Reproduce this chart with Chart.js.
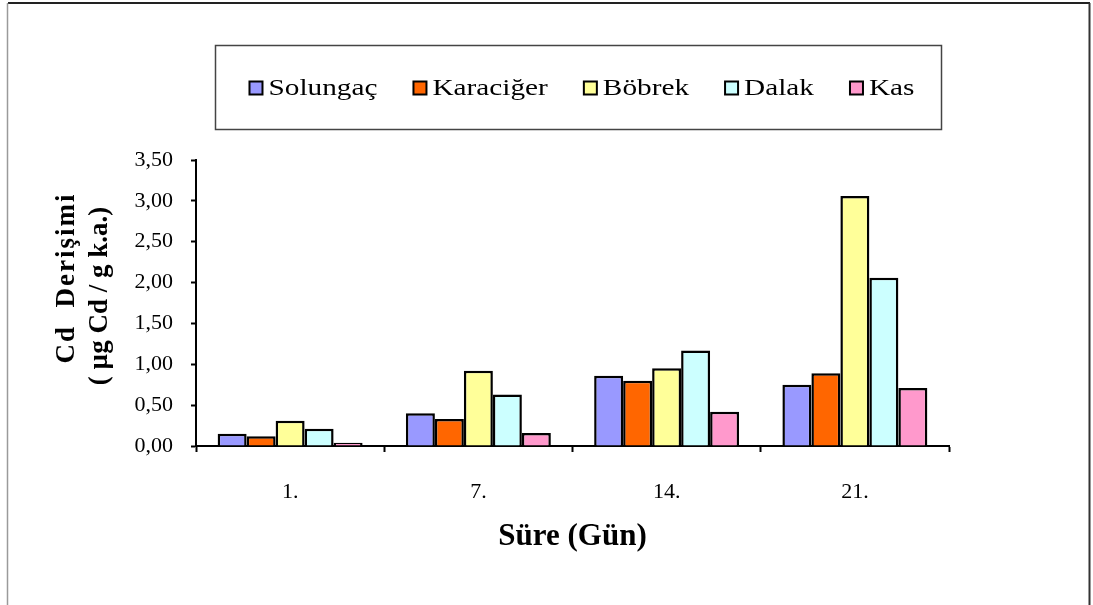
<!DOCTYPE html>
<html>
<head>
<meta charset="utf-8">
<script src="https://cdn.jsdelivr.net/npm/chart.js@4/dist/chart.umd.min.js"></script>
<style>
  html, body { margin: 0; padding: 0; background: #ffffff; }
  #wrap { width: 1093px; height: 605px; position: relative; }
</style>
</head>
<body>
<div id="wrap"><canvas id="c" width="1093" height="605"></canvas></div>
<script>
// Sampling days (x categories)
const categories = ['1.', '7.', '14.', '21.'];

// Cd concentration per tissue (µg Cd / g k.a.)
const solungac  = [0.15, 0.40, 0.86, 0.75];
const karaciger = [0.12, 0.33, 0.80, 0.89];
const bobrek    = [0.31, 0.92, 0.95, 3.06];
const dalak     = [0.21, 0.63, 1.17, 2.06];
const kas       = [0.04, 0.16, 0.42, 0.71];

// Series names and fills
const seriesNames  = ['Solungaç', 'Karaciğer', 'Böbrek', 'Dalak', 'Kas'];
const seriesColors = ['#9999FF', '#FF6600', '#FFFF99', '#CCFFFF', '#FF99CC'];

// Y tick labels (decimal comma)
const yTickLabels = ['0,00', '0,50', '1,00', '1,50', '2,00', '2,50', '3,00', '3,50'];

const yTitleLines = ['Cd  Derişimi', '( µg Cd / g k.a.)'];
const xTitle = 'Süre (Gün)';

const SERIF = '"Liberation Serif", "Times New Roman", serif';

const seriesValues = [solungac, karaciger, bobrek, dalak, kas];

// Frame, boxed legend and rotated y-axis title
const decorations = {
  id: 'decorations',
  afterDraw(chart) {
    const ctx = chart.ctx;
    ctx.save();

    // outer frame
    ctx.strokeStyle = '#222222';
    ctx.lineWidth = 2;
    ctx.beginPath();
    ctx.moveTo(8, 3); ctx.lineTo(1090, 3);
    ctx.stroke();
    ctx.strokeStyle = '#9a9a9a';
    ctx.lineWidth = 1.5;
    ctx.beginPath();
    ctx.moveTo(7.5, 3); ctx.lineTo(7.5, 605);
    ctx.stroke();
    ctx.strokeStyle = '#333333';
    ctx.lineWidth = 2;
    ctx.beginPath();
    ctx.moveTo(1089.5, 3); ctx.lineTo(1089.5, 605);
    ctx.stroke();

    // legend box
    ctx.strokeStyle = '#444444';
    ctx.lineWidth = 1.5;
    ctx.strokeRect(215.5, 45.5, 726, 84);

    // legend items (text slightly widened)
    ctx.font = '24px ' + SERIF;
    ctx.textBaseline = 'middle';
    ctx.textAlign = 'left';
    const sx = 1.22;
    const box = 13, boxGap = 6, itemGap = 36;
    const ds = chart.data.datasets;
    const widths = ds.map(d => ctx.measureText(d.label).width * sx);
    const total = widths.reduce((a, w) => a + box + boxGap + w, 0) + itemGap * (ds.length - 1);
    let x = 582 - total / 2;
    const cy = 88;
    ds.forEach((d, i) => {
      ctx.fillStyle = d.backgroundColor;
      ctx.fillRect(x, cy - box / 2, box, box);
      ctx.strokeStyle = '#000000';
      ctx.lineWidth = 2;
      ctx.strokeRect(x, cy - box / 2, box, box);
      ctx.fillStyle = '#000000';
      ctx.save();
      ctx.translate(x + box + boxGap, cy + 1);
      ctx.scale(sx, 1);
      ctx.fillText(d.label, 0, 0);
      ctx.restore();
      x += box + boxGap + widths[i] + itemGap;
    });

    // y-axis title, two rotated lines
    ctx.textAlign = 'center';
    ctx.fillStyle = '#000000';
    const pos = [[67, 278], [100, 296]];
    const spacing = ['2px', '0px'];
    yTitleLines.forEach((t, i) => {
      ctx.save();
      ctx.font = 'bold 27px ' + SERIF;
      if ('letterSpacing' in ctx) ctx.letterSpacing = spacing[i];
      ctx.translate(pos[i][0], pos[i][1]);
      ctx.rotate(-Math.PI / 2);
      ctx.fillText(t, 0, 0);
      ctx.restore();
    });

    ctx.restore();
  }
};

new Chart(document.getElementById('c'), {
  type: 'bar',
  data: {
    labels: categories,
    datasets: seriesNames.map((name, i) => ({
      label: name,
      data: seriesValues[i],
      backgroundColor: seriesColors[i],
      borderColor: '#000000',
      borderWidth: 2.5,
      categoryPercentage: 0.77,
      barPercentage: 1.0
    }))
  },
  options: {
    responsive: false,
    animation: false,
    devicePixelRatio: 1,
    layout: { padding: { top: 160, left: 46, right: 144, bottom: 45 } },
    plugins: {
      legend: { display: false },
      tooltip: { enabled: false }
    },
    scales: {
      x: {
        grid: {
          display: true,
          drawOnChartArea: false,
          drawTicks: true,
          tickLength: 6,
          tickWidth: 2,
          color: '#000000',
          offset: true
        },
        border: { display: true, color: '#000000', width: 2 },
        ticks: {
          color: '#000000',
          padding: 27,
          font: { family: SERIF, size: 22 }
        },
        title: {
          display: true,
          text: xTitle,
          color: '#000000',
          font: { family: SERIF, size: 31, weight: 'bold' }
        },
        afterFit(scale) { scale.height = 114; }
      },
      y: {
        min: 0,
        max: 3.5,
        grid: {
          display: true,
          drawOnChartArea: false,
          drawTicks: true,
          tickLength: 5,
          tickWidth: 2,
          color: '#000000'
        },
        border: { display: true, color: '#000000', width: 2 },
        ticks: {
          stepSize: 0.5,
          color: '#000000',
          padding: 18,
          font: { family: SERIF, size: 22 },
          callback: (v, i) => yTickLabels[i]
        },
        afterFit(scale) { scale.width = 150; }
      }
    }
  },
  plugins: [decorations]
});
</script>
</body>
</html>
